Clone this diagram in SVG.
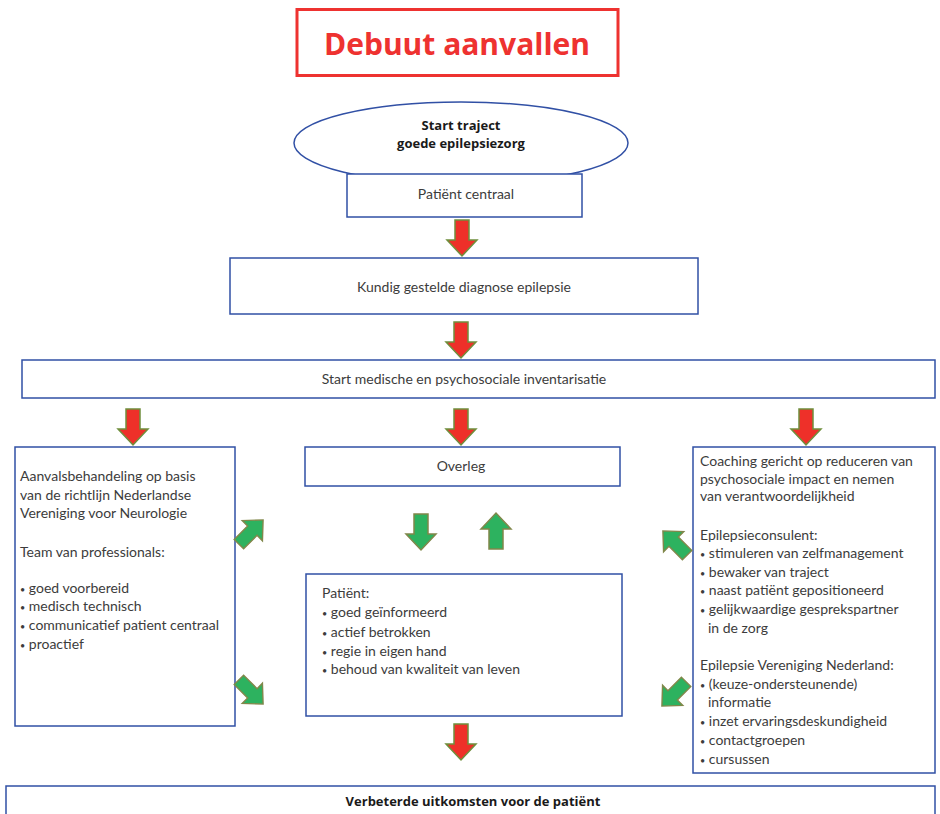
<svg xmlns="http://www.w3.org/2000/svg" xmlns:xlink="http://www.w3.org/1999/xlink" width="940" height="814" viewBox="0 0 940 814">
<style>
.box{fill:#fff;stroke:#3150a5;stroke-width:1.5}
.t{font-family:Lato,"Open Sans",sans-serif;font-size:14px;fill:#3c3c3c}
.d{font-size:9px}
.b{font-family:"Open Sans",Lato,sans-serif;font-size:13px;font-weight:bold;fill:#1a1a1a}
.red{fill:#ee3029;stroke:#6f8f3c;stroke-width:1.5}
.grn{fill:#2db25f;stroke:#80874a;stroke-width:1.5}
</style>
<defs>
<polygon id="arr" points="-7,-18 7,-18 7,2 15,2 0,18 -15,2 -7,2"/>
</defs>
<g id="title">
<rect x="297" y="9.5" width="321" height="66" fill="#fff" stroke="#ee3230" stroke-width="3"/>
<text x="457" y="55" text-anchor="middle" font-family="Open Sans,Lato,sans-serif" font-size="30" font-weight="bold" fill="#ee3230">Debuut aanvallen</text>
</g>
<g id="start">
<ellipse cx="461" cy="143" rx="167" ry="41" fill="#fff" stroke="#3150a5" stroke-width="1.5"/>
<text x="461" y="130" text-anchor="middle" class="b">Start traject</text>
<text x="461" y="148" text-anchor="middle" class="b">goede epilepsiezorg</text>
</g>
<g id="centraal">
<rect class="box" x="347" y="174" width="235" height="43"/>
<text x="466" y="199" text-anchor="middle" class="t">Patiënt centraal</text>
</g>
<g id="diagnose">
<rect class="box" x="230" y="258" width="468" height="56"/>
<text x="464" y="292" text-anchor="middle" class="t">Kundig gestelde diagnose epilepsie</text>
</g>
<g id="inventarisatie">
<rect class="box" x="22" y="360" width="913" height="38"/>
<text x="464" y="384" text-anchor="middle" class="t">Start medische en psychosociale inventarisatie</text>
</g>
<g id="links">
<rect class="box" x="15" y="447" width="220" height="279"/>
<text class="t" x="20" y="481">Aanvalsbehandeling op basis</text>
<text class="t" x="20" y="500">van de richtlijn Nederlandse</text>
<text class="t" x="20" y="518">Vereniging voor Neurologie</text>
<text class="t" x="20" y="557">Team van professionals:</text>
<text class="t" x="20" y="593"><tspan class="d">•</tspan> goed voorbereid</text>
<text class="t" x="20" y="611"><tspan class="d">•</tspan> medisch technisch</text>
<text class="t" x="20" y="630"><tspan class="d">•</tspan> communicatief patient centraal</text>
<text class="t" x="20" y="649"><tspan class="d">•</tspan> proactief</text>
</g>
<g id="overleg">
<rect class="box" x="305" y="447" width="315" height="39"/>
<text x="461" y="471" text-anchor="middle" class="t">Overleg</text>
</g>
<g id="patient">
<rect class="box" x="306" y="574" width="316" height="142"/>
<text class="t" x="322" y="598">Patiënt:</text>
<text class="t" x="322" y="617"><tspan class="d">•</tspan> goed geïnformeerd</text>
<text class="t" x="322" y="637"><tspan class="d">•</tspan> actief betrokken</text>
<text class="t" x="322" y="656"><tspan class="d">•</tspan> regie in eigen hand</text>
<text class="t" x="322" y="674"><tspan class="d">•</tspan> behoud van kwaliteit van leven</text>
</g>
<g id="rechts">
<rect class="box" x="693" y="447" width="242" height="326"/>
<text class="t" x="700" y="466">Coaching gericht op reduceren van</text>
<text class="t" x="700" y="484">psychosociale impact en nemen</text>
<text class="t" x="700" y="501">van verantwoordelijkheid</text>
<text class="t" x="700" y="540">Epilepsieconsulent:</text>
<text class="t" x="700" y="558"><tspan class="d">•</tspan> stimuleren van zelfmanagement</text>
<text class="t" x="700" y="577"><tspan class="d">•</tspan> bewaker van traject</text>
<text class="t" x="700" y="595"><tspan class="d">•</tspan> naast patiënt gepositioneerd</text>
<text class="t" x="700" y="614"><tspan class="d">•</tspan> gelijkwaardige gesprekspartner</text>
<text class="t" x="708" y="633">in de zorg</text>
<text class="t" x="700" y="670">Epilepsie Vereniging Nederland:</text>
<text class="t" x="700" y="689"><tspan class="d">•</tspan> (keuze-ondersteunende)</text>
<text class="t" x="708" y="707">informatie</text>
<text class="t" x="700" y="726"><tspan class="d">•</tspan> inzet ervaringsdeskundigheid</text>
<text class="t" x="700" y="745"><tspan class="d">•</tspan> contactgroepen</text>
<text class="t" x="700" y="764"><tspan class="d">•</tspan> cursussen</text>
</g>
<g id="uitkomsten">
<rect class="box" x="6" y="786" width="929" height="40"/>
<text x="473" y="806" text-anchor="middle" class="b">Verbeterde uitkomsten voor de patiënt</text>
</g>
<g id="connectors">
<use xlink:href="#arr" class="red" transform="translate(462,238)"/>
<use xlink:href="#arr" class="red" transform="translate(461,340)"/>
<use xlink:href="#arr" class="red" transform="translate(133,427)"/>
<use xlink:href="#arr" class="red" transform="translate(461,427)"/>
<use xlink:href="#arr" class="red" transform="translate(806,427)"/>
<use xlink:href="#arr" class="red" transform="translate(461,742)"/>
<use xlink:href="#arr" class="grn" transform="translate(421,532)"/>
<use xlink:href="#arr" class="grn" transform="translate(496,531) rotate(180)"/>
<use xlink:href="#arr" class="grn" transform="translate(251,532) rotate(-135) scale(0.95)"/>
<use xlink:href="#arr" class="grn" transform="translate(251,692) rotate(-45) scale(0.95)"/>
<use xlink:href="#arr" class="grn" transform="translate(675,543) rotate(135) scale(0.95)"/>
<use xlink:href="#arr" class="grn" transform="translate(674,694) rotate(45) scale(0.95)"/>
</g>
</svg>
